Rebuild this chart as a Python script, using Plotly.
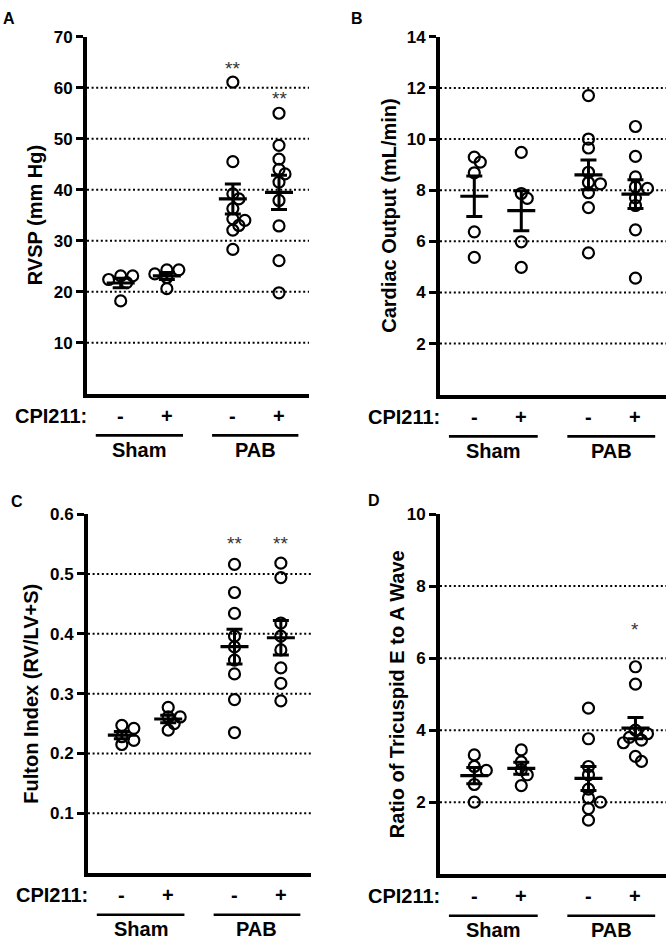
import plotly.graph_objects as go
import numpy as np

W, H = 666, 940

# ---------------- data ----------------
cpi_labels = ["-", "+", "-", "+"]
group_names = ["Sham", "PAB"]
xpos = [1, 2, 3.43, 4.43]

rvsp_sham_veh = [18.2, 23.1, 23.1, 21.8, 22.4]
rvsp_sham_cpi = [24.3, 24.3, 23.5, 22.8, 20.6]
rvsp_pab_veh = [61.1, 45.5, 39.2, 38.2, 36.3, 34.3, 34.0, 33.0, 32.1, 28.3]
rvsp_pab_cpi = [55.0, 48.7, 46.0, 44.0, 43.1, 41.5, 37.9, 32.9, 26.1, 19.8]

co_sham_veh = [9.29, 9.10, 8.68, 6.37, 5.37]
co_sham_cpi = [9.48, 7.87, 7.68, 5.98, 4.98]
co_pab_veh = [11.7, 10.0, 9.65, 8.7, 8.3, 8.25, 7.9, 7.32, 5.55]
co_pab_cpi = [10.49, 9.32, 8.52, 8.13, 8.07, 7.7, 7.4, 6.45, 4.56]

fi_sham_veh = [0.247, 0.242, 0.228, 0.222, 0.215]
fi_sham_cpi = [0.277, 0.261, 0.261, 0.250, 0.239]
fi_pab_veh = [0.516, 0.469, 0.434, 0.396, 0.378, 0.356, 0.333, 0.290, 0.235]
fi_pab_cpi = [0.518, 0.494, 0.418, 0.396, 0.373, 0.343, 0.317, 0.288]

ea_sham_veh = [3.31, 2.99, 2.88, 2.49, 2.00]
ea_sham_cpi = [3.45, 3.12, 2.90, 2.76, 2.46]
ea_pab_veh = [4.61, 3.76, 2.99, 2.76, 2.36, 2.12, 2.00, 1.82, 1.50]
ea_pab_cpi = [5.76, 5.28, 4.00, 3.90, 3.80, 3.72, 3.65, 3.27, 3.13]

rvsp_ticks = [10, 20, 30, 40, 50, 60, 70]
co_ticks = [2, 4, 6, 8, 10, 12, 14]
fi_ticks = [0.1, 0.2, 0.3, 0.4, 0.5, 0.6]
ea_ticks = [2, 4, 6, 8, 10]

panels = [
    dict(letter="A", groups=[rvsp_sham_veh, rvsp_sham_cpi, rvsp_pab_veh, rvsp_pab_cpi],
         ytitle="RVSP (mm Hg)", yrange=[0, 70], ticks=rvsp_ticks, ticktext=[str(t) for t in rvsp_ticks],
         stars=[(2, "**", 61.3), (3, "**", 55.4)],
         px=(87, 309, 28, 388.5), tshift=-52, letter_px=(9, 10)),
    dict(letter="B", groups=[co_sham_veh, co_sham_cpi, co_pab_veh, co_pab_cpi],
         ytitle="Cardiac Output (mL/min)", yrange=[0, 14], ticks=co_ticks, ticktext=[str(t) for t in co_ticks],
         stars=[],
         px=(440, 666, 28, 389.5), tshift=-51, letter_px=(357, 10)),
    dict(letter="C", groups=[fi_sham_veh, fi_sham_cpi, fi_pab_veh, fi_pab_cpi],
         ytitle="Fulton Index (RV/LV+S)", yrange=[0, 0.6], ticks=fi_ticks, ticktext=[f"{t:.1f}" for t in fi_ticks],
         stars=[(2, "**", 0.530), (3, "**", 0.530)],
         px=(88, 311, 510, 872.5), tshift=-57, letter_px=(17, 497)),
    dict(letter="D", groups=[ea_sham_veh, ea_sham_cpi, ea_pab_veh, ea_pab_cpi],
         ytitle="Ratio of Tricuspid E to A Wave", yrange=[0, 10], ticks=ea_ticks, ticktext=[str(t) for t in ea_ticks],
         stars=[(3, "*", 6.45)],
         px=(440, 666, 510, 873.5), tshift=-43, letter_px=(374, 496)),
]

XRANGE = [0.27, 5.08]
FONT = "Liberation Sans, Arial, sans-serif"


def swarm(vals, ypx, xpx, step=6.0, mind=7.5):
    placed = []
    offs = []
    for v in vals:
        y = v * ypx
        chosen = 0.0
        for k in [0, 1, -1, 2, -2, 3, -3, 4, -4]:
            x = k * step
            if all((x - a) ** 2 + (y - b) ** 2 >= mind ** 2 for a, b in placed):
                chosen = x
                break
        placed.append((chosen, y))
        offs.append(chosen / xpx)
    return offs


fig = go.Figure()
shapes = []
annotations = []
layout_axes = {}

for i, p in enumerate(panels):
    n = i + 1
    xa = "x" if n == 1 else f"x{n}"
    ya = "y" if n == 1 else f"y{n}"
    xl, xr, yt, yb = p["px"]
    xdom = [xl / W, xr / W]
    ydom = [1 - yb / H, 1 - yt / H]
    ypx = (yb - yt) / (p["yrange"][1] - p["yrange"][0])
    xpx = (xr - xl) / (XRANGE[1] - XRANGE[0])

    for gi, vals in enumerate(p["groups"]):
        offs = swarm(vals, ypx, xpx)
        fig.add_trace(go.Scatter(
            x=[xpos[gi] + o for o in offs], y=vals, mode="markers",
            marker=dict(symbol="circle-open", size=11, color="black", line=dict(width=2.2, color="black")),
            xaxis=xa, yaxis=ya, showlegend=False, hoverinfo="y"))
        arr = np.array(vals)
        mean = arr.mean()
        sem = arr.std(ddof=1) / np.sqrt(len(arr))
        fig.add_trace(go.Scatter(
            x=[xpos[gi]], y=[mean], mode="markers",
            marker=dict(symbol="line-ew", size=20, color="black", line=dict(width=3.2, color="black")),
            error_y=dict(type="data", array=[sem], visible=True, thickness=3, width=8, color="black"),
            xaxis=xa, yaxis=ya, showlegend=False, hoverinfo="y"))

    axx = "xaxis" if n == 1 else f"xaxis{n}"
    axy = "yaxis" if n == 1 else f"yaxis{n}"
    layout_axes[axx] = dict(domain=xdom, range=XRANGE, showgrid=False, zeroline=False,
                            showline=True, linewidth=4, linecolor="black",
                            showticklabels=False, ticks="", anchor=ya, fixedrange=True)
    layout_axes[axy] = dict(domain=ydom, range=p["yrange"], showgrid=False, zeroline=False,
                            showline=True, linewidth=4, linecolor="black",
                            tickmode="array", tickvals=p["ticks"], ticktext=p["ticktext"],
                            ticks="outside", ticklen=7, tickwidth=3, tickcolor="black",
                            tickfont=dict(family=FONT, size=17, color="black", weight="bold"),
                            anchor=xa, fixedrange=True)

    # dotted gridlines (all ticks except the top one)
    for t in p["ticks"][:-1]:
        shapes.append(dict(type="line", xref=f"{xa} domain", yref=ya, x0=0, x1=1, y0=t, y1=t,
                           line=dict(color="black", width=2, dash="2px,2.6px"), layer="below"))

    # y title
    annotations.append(dict(text=f"<b>{p['ytitle']}</b>", xref=f"{xa} domain", yref=f"{ya} domain",
                            x=0, y=0.5, xshift=p["tshift"], xanchor="center", yanchor="middle",
                            textangle=-90, showarrow=False,
                            font=dict(family=FONT, size=20, color="black")))
    # panel letter
    lx, ly = p["letter_px"]
    annotations.append(dict(text=f"<b>{p['letter']}</b>", xref="paper", yref="paper",
                            x=lx / W, y=1 - ly / H, xanchor="center", yanchor="middle",
                            showarrow=False, font=dict(family=FONT, size=16, color="black")))
    # significance stars
    for gi, s, yv in p["stars"]:
        annotations.append(dict(text=s, xref=xa, yref=ya, x=xpos[gi], y=yv, xanchor="center",
                                yanchor="bottom", showarrow=False,
                                font=dict(family=FONT, size=19, color="#333333")))
    # CPI211 row
    annotations.append(dict(text="<b>CPI211:</b>", xref=f"{xa} domain", yref=f"{ya} domain",
                            x=0, y=0, xshift=2, yshift=-22, xanchor="right", yanchor="middle",
                            showarrow=False, font=dict(family=FONT, size=20, color="black")))
    for gi, lab in enumerate(cpi_labels):
        annotations.append(dict(text=f"<b>{lab}</b>", xref=xa, yref=f"{ya} domain",
                                x=xpos[gi], y=0, yshift=-22, xanchor="center", yanchor="middle",
                                showarrow=False, font=dict(family=FONT, size=20, color="black")))
    # group underlines and names
    spans = [(xpos[0] - 0.54, xpos[1] + 0.35), (xpos[2] - 0.45, xpos[3] + 0.42)]
    for (a, b), name in zip(spans, group_names):
        yline = 1 - (yb + 42) / H
        shapes.append(dict(type="line", xref=xa, yref="paper", x0=a, x1=b, y0=yline, y1=yline,
                           line=dict(color="black", width=2.6)))
        annotations.append(dict(text=f"<b>{name}</b>", xref=xa, yref=f"{ya} domain",
                                x=(a + b) / 2, y=0, yshift=-56, xanchor="center", yanchor="middle",
                                showarrow=False, font=dict(family=FONT, size=20, color="black")))

fig.update_layout(
    width=W, height=H, margin=dict(l=0, r=0, t=0, b=0),
    paper_bgcolor="white", plot_bgcolor="white",
    shapes=shapes, annotations=annotations,
    font=dict(family=FONT, color="black"),
    **layout_axes,
)

fig.write_html("out.html", config={"displayModeBar": False},
               post_script="document.body.style.margin='0px';document.body.style.overflow='hidden';")
